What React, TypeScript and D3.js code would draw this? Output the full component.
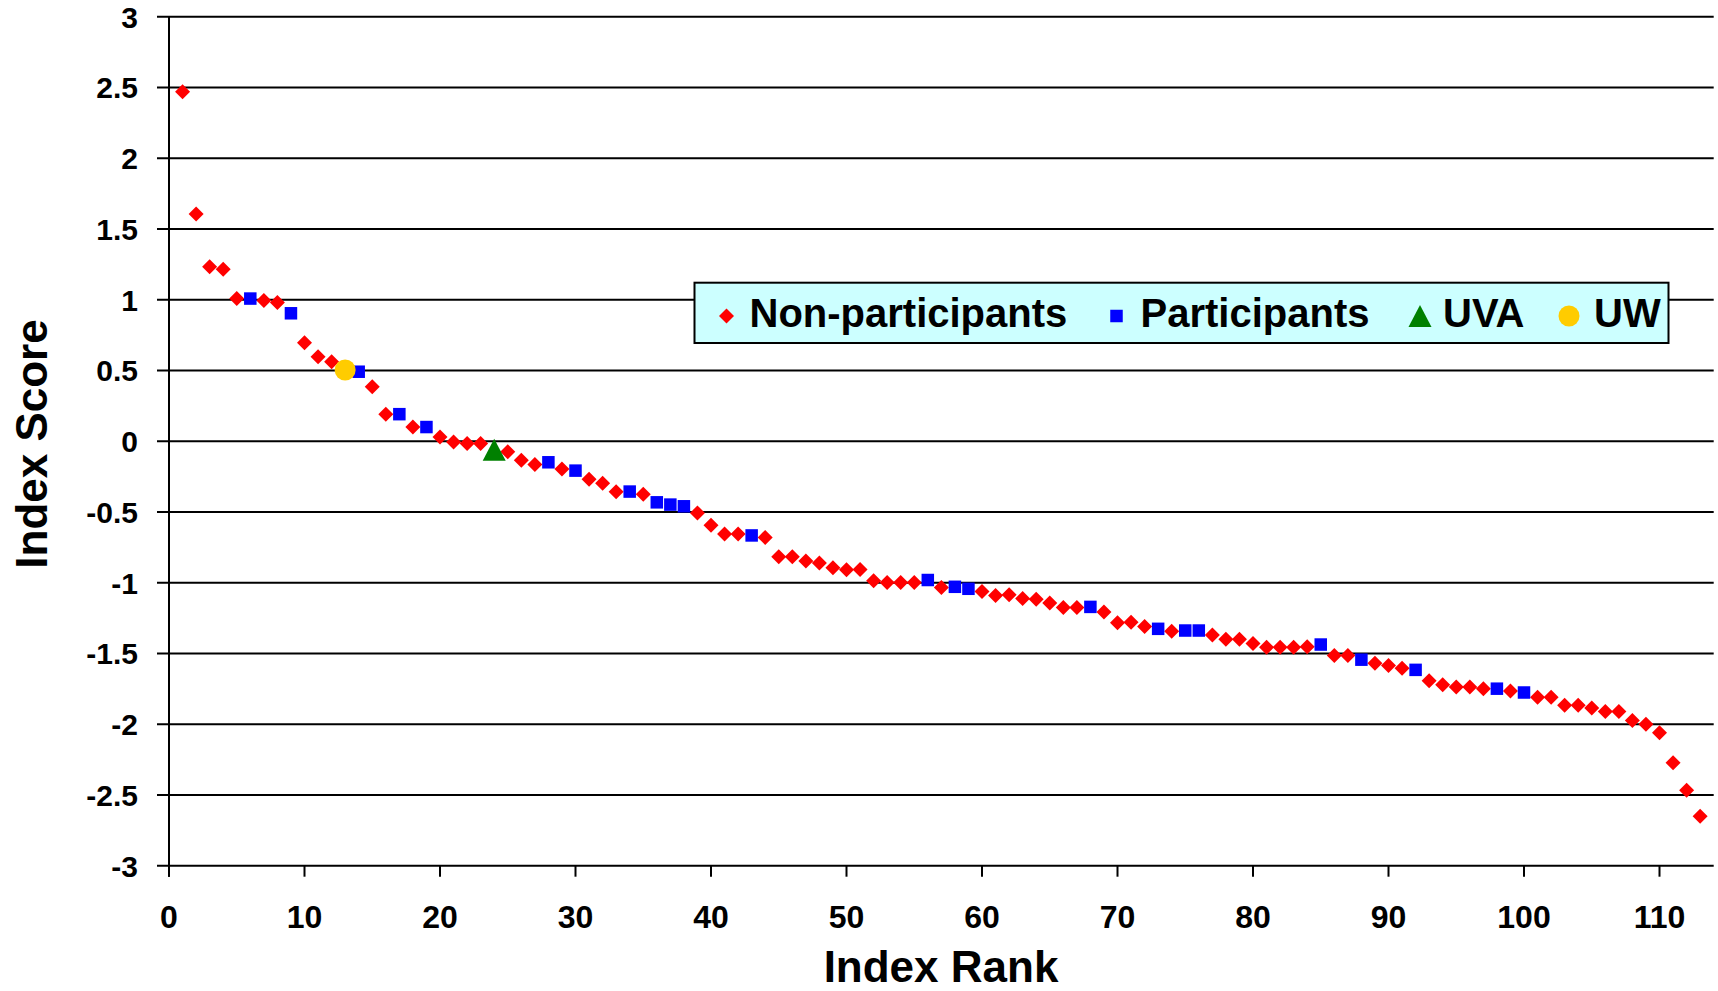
import React from "react";
import * as d3 from "d3";

// Index scores, in rank order (rank 1 .. 113)
const scores: number[] = [
  2.47, 1.605, 1.232, 1.216, 1.008, 1.008, 0.994, 0.98, 0.904, 0.696,
  0.597, 0.562, 0.503, 0.491, 0.385, 0.191, 0.191, 0.1, 0.1, 0.03,
  -0.005, -0.017, -0.017, -0.06, -0.075, -0.134, -0.165, -0.149, -0.196, -0.208,
  -0.269, -0.297, -0.358, -0.356, -0.375, -0.432, -0.448, -0.46, -0.507, -0.594,
  -0.655, -0.655, -0.666, -0.68, -0.817, -0.817, -0.846, -0.861, -0.894, -0.909,
  -0.906, -0.986, -0.998, -0.998, -0.998, -0.981, -1.034, -1.029, -1.043, -1.063,
  -1.091, -1.086, -1.112, -1.117, -1.143, -1.176, -1.176, -1.171, -1.207, -1.283,
  -1.279, -1.31, -1.326, -1.343, -1.338, -1.338, -1.369, -1.4, -1.4, -1.429,
  -1.457, -1.457, -1.457, -1.453, -1.437, -1.514, -1.514, -1.544, -1.57, -1.586,
  -1.605, -1.616, -1.693, -1.721, -1.737, -1.737, -1.749, -1.749, -1.765, -1.776,
  -1.81, -1.81, -1.866, -1.866, -1.885, -1.911, -1.911, -1.974, -2.0, -2.06,
  -2.273, -2.467, -2.651,
];

const participantRanks: number[] = [
  6, 9, 14, 17, 19, 28, 30, 34, 36, 37, 38, 43, 56, 58, 59, 68, 73, 75, 76, 85,
  88, 92, 98, 100,
];
const uvaRanks: number[] = [24];
const uwRanks: number[] = [13];

const xTicks: number[] = [0, 10, 20, 30, 40, 50, 60, 70, 80, 90, 100, 110];
const yTicks: number[] = [3, 2.5, 2, 1.5, 1, 0.5, 0, -0.5, -1, -1.5, -2, -2.5, -3];

const legendItems: string[] = ["Non-participants", "Participants", "UVA", "UW"];

const W = 1718;
const H = 991;
const FONT = "'Liberation Sans', Arial, Helvetica, sans-serif";

type Pt = { rank: number; score: number; group: string };

export default function App() {
  const x = d3.scaleLinear().domain([0, 114]).range([169, 169 + 114 * 13.55]);
  const y = d3.scaleLinear().domain([-3, 3]).range([865.7, 16.7]);

  const points: Pt[] = scores.map((s, i) => {
    const rank = i + 1;
    let group = "N";
    if (participantRanks.includes(rank)) group = "P";
    if (uvaRanks.includes(rank)) group = "UVA";
    if (uwRanks.includes(rank)) group = "UW";
    return { rank, score: s, group };
  });

  const order = ["N", "P", "UVA", "UW"];
  const sorted = [...points].sort((a, b) => order.indexOf(a.group) - order.indexOf(b.group));

  const marker = (group: string, cx: number, cy: number, key: string | number) => {
    if (group === "N") {
      const r = 7.5;
      return (
        <path
          key={key}
          d={`M${cx},${cy - r}L${cx + r},${cy}L${cx},${cy + r}L${cx - r},${cy}Z`}
          fill="#ff0000"
        />
      );
    }
    if (group === "P") {
      const s = 12.5;
      return <rect key={key} x={cx - s / 2} y={cy - s / 2} width={s} height={s} fill="#0000ff" />;
    }
    if (group === "UVA") {
      const w = 23;
      const h = 22;
      return (
        <path
          key={key}
          d={`M${cx},${cy - h / 2}L${cx + w / 2},${cy + h / 2}L${cx - w / 2},${cy + h / 2}Z`}
          fill="#008000"
        />
      );
    }
    return <circle key={key} cx={cx} cy={cy} r={10.5} fill="#ffcc00" />;
  };

  const x0 = x.range()[0];
  const x1 = x.range()[1];
  const yBottom = y(-3);

  // legend layout
  const legendBox = { x: 694.5, y: 282.7, w: 974, h: 60.3 };
  const legendMarkerX = [726.5, 1116.5, 1420, 1569];
  const legendTextX = [749.5, 1140.5, 1443, 1594];
  const legendGroups = ["N", "P", "UVA", "UW"];

  return (
    <div style={{ position: "absolute", left: 0, top: 0 }}>
      <svg width={W} height={H} style={{ display: "block", background: "#fff" }} fontFamily={FONT}>
        {/* gridlines */}
        {yTicks.map((t) => (
          <line key={"g" + t} x1={x0 - 12} x2={x1} y1={y(t)} y2={y(t)} stroke="#000" strokeWidth={2} />
        ))}
        {/* y axis */}
        <line x1={x0} x2={x0} y1={y(3)} y2={yBottom + 11} stroke="#000" strokeWidth={2} />
        {/* x ticks */}
        {xTicks.map((t) => (
          <line key={"xt" + t} x1={x(t)} x2={x(t)} y1={yBottom} y2={yBottom + 11} stroke="#000" strokeWidth={2} />
        ))}
        {/* y tick labels */}
        {yTicks.map((t) => (
          <text
            key={"yl" + t}
            x={138}
            y={y(t) + 11}
            textAnchor="end"
            fontSize={30}
            fontWeight="bold"
            fill="#000"
          >
            {String(t)}
          </text>
        ))}
        {/* x tick labels */}
        {xTicks.map((t) => (
          <text
            key={"xl" + t}
            x={x(t)}
            y={928}
            textAnchor="middle"
            fontSize={32}
            fontWeight="bold"
            fill="#000"
          >
            {String(t)}
          </text>
        ))}
        {/* axis titles */}
        <text x={941} y={982} textAnchor="middle" fontSize={44} fontWeight="bold" fill="#000">
          Index Rank
        </text>
        <text
          transform={`translate(47,444) rotate(-90)`}
          textAnchor="middle"
          fontSize={44}
          fontWeight="bold"
          fill="#000"
        >
          Index Score
        </text>
        {/* points */}
        {sorted.map((p, i) => marker(p.group, x(p.rank), y(p.score), "pt" + i))}
        {/* legend */}
        <rect
          x={legendBox.x}
          y={legendBox.y}
          width={legendBox.w}
          height={legendBox.h}
          fill="#ccffff"
          stroke="#000"
          strokeWidth={2}
        />
        {legendItems.map((label, i) => (
          <g key={"lg" + i}>
            {marker(legendGroups[i], legendMarkerX[i], 316, "lm" + i)}
            <text x={legendTextX[i]} y={326.5} fontSize={40} fontWeight="bold" fill="#000">
              {label}
            </text>
          </g>
        ))}
      </svg>
    </div>
  );
}
